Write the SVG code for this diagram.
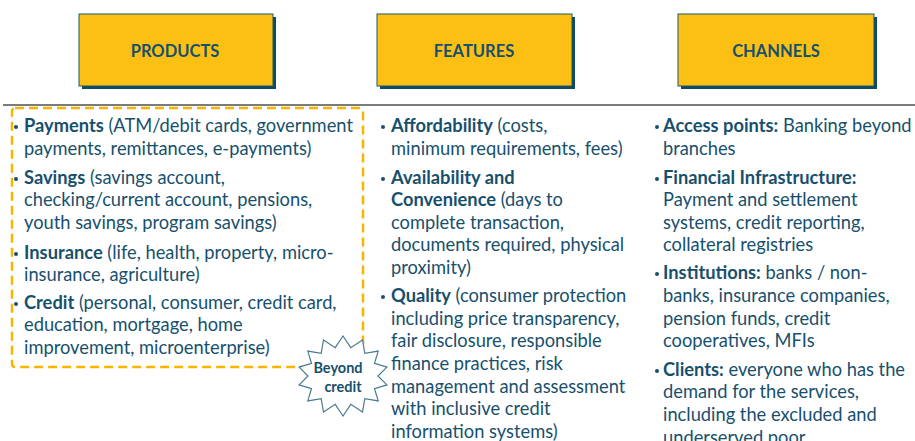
<svg xmlns="http://www.w3.org/2000/svg" width="915" height="441" viewBox="0 0 915 441">
<style>
.box{fill:#fcc015;stroke:#1a5870;stroke-width:1}
.shadow{fill:#0f4a60}
.hdr{font-family:Lato,"DejaVu Sans",sans-serif;font-size:16.5px;font-weight:bold;fill:#17506d;text-anchor:middle}
.t{font-family:Lato,"DejaVu Sans",sans-serif;font-size:18.3px;fill:#17506d}
.b{font-weight:bold}
.bul{fill:#17506d}
.star{fill:#fff;stroke:#4a7a8f;stroke-width:1.2}
.st{font-family:Lato,"DejaVu Sans",sans-serif;font-size:14.5px;font-weight:bold;fill:#17506d;text-anchor:middle}
</style>
<rect width="915" height="441" fill="#fff"/>
<g id="products-header">
<rect class="shadow" x="82" y="17" width="194" height="72"/>
<rect class="box" x="79" y="14" width="194" height="72"/>
<text class="hdr" x="175" y="57">PRODUCTS</text>
</g>
<g id="features-header">
<rect class="shadow" x="380" y="17" width="195" height="72"/>
<rect class="box" x="377" y="14" width="195" height="72"/>
<text class="hdr" x="474" y="57">FEATURES</text>
</g>
<g id="channels-header">
<rect class="shadow" x="681" y="17" width="196" height="72"/>
<rect class="box" x="678" y="14" width="196" height="72"/>
<text class="hdr" x="776" y="57">CHANNELS</text>
</g>
<line x1="3" y1="105" x2="915" y2="105" stroke="#505050" stroke-width="1.5"/>
<g id="products-list">
<rect x="12" y="108" width="351" height="259" rx="3" fill="none" stroke="#f7b500" stroke-width="2.5" stroke-dasharray="9 5"/>
<circle class="bul" cx="16" cy="127" r="2"/>
<circle class="bul" cx="16" cy="179" r="2"/>
<circle class="bul" cx="16" cy="254" r="2"/>
<circle class="bul" cx="16" cy="304" r="2"/>
<text class="t" x="24" y="132"><tspan class="b">Payments</tspan> (ATM/debit cards, government</text>
<text class="t" x="24" y="155">payments, remittances, e-payments)</text>
<text class="t" x="24" y="184"><tspan class="b">Savings</tspan> (savings account,</text>
<text class="t" x="24" y="206">checking/current account, pensions,</text>
<text class="t" x="24" y="229">youth savings, program savings)</text>
<text class="t" x="24" y="259"><tspan class="b">Insurance</tspan> (life, health, property, micro-</text>
<text class="t" x="24" y="281">insurance, agriculture)</text>
<text class="t" x="24" y="309"><tspan class="b">Credit</tspan> (personal, consumer, credit card,</text>
<text class="t" x="24" y="331">education, mortgage, home</text>
<text class="t" x="24" y="354">improvement, microenterprise)</text>
</g>
<g id="beyond-credit">
<polygon class="star" points="343,336 350.8,347.7 362.5,340 364.8,353.3 378.2,351.1 374.5,363.4 386.9,367.1 378,376 386.9,384.9 374.5,388.6 378.2,400.9 364.8,398.7 362.5,412 350.8,404.3 343,416 335.2,404.3 323.5,412 321.2,398.7 307.8,400.9 311.5,388.6 299.1,384.9 308,376 299.1,367.1 311.5,363.4 307.8,351.1 321.2,353.3 323.5,340 335.2,347.7"/>
<text class="st" x="338" y="373">Beyond</text>
<text class="st" x="343" y="392">credit</text>
</g>
<g id="features-list">
<circle class="bul" cx="383" cy="127" r="2"/>
<circle class="bul" cx="383" cy="179" r="2"/>
<circle class="bul" cx="383" cy="297" r="2"/>
<text class="t" x="391" y="132"><tspan class="b">Affordability</tspan> (costs,</text>
<text class="t" x="391" y="155">minimum requirements, fees)</text>
<text class="t" x="391" y="184"><tspan class="b">Availability and</tspan></text>
<text class="t" x="391" y="206"><tspan class="b">Convenience</tspan> (days to</text>
<text class="t" x="391" y="229">complete transaction,</text>
<text class="t" x="391" y="251">documents required, physical</text>
<text class="t" x="391" y="274">proximity)</text>
<text class="t" x="391" y="302"><tspan class="b">Quality</tspan> (consumer protection</text>
<text class="t" x="391" y="325">including price transparency,</text>
<text class="t" x="391" y="347">fair disclosure, responsible</text>
<text class="t" x="391" y="370">finance practices, risk</text>
<text class="t" x="391" y="393">management and assessment</text>
<text class="t" x="391" y="415">with inclusive credit</text>
<text class="t" x="391" y="438">information systems)</text>
</g>
<g id="channels-list">
<circle class="bul" cx="657" cy="127" r="2"/>
<circle class="bul" cx="657" cy="179" r="2"/>
<circle class="bul" cx="657" cy="274" r="2"/>
<circle class="bul" cx="657" cy="371" r="2"/>
<text class="t" x="663" y="132"><tspan class="b">Access points:</tspan> Banking beyond</text>
<text class="t" x="663" y="155">branches</text>
<text class="t" x="663" y="184"><tspan class="b">Financial Infrastructure:</tspan></text>
<text class="t" x="663" y="206">Payment and settlement</text>
<text class="t" x="663" y="229">systems, credit reporting,</text>
<text class="t" x="663" y="251">collateral registries</text>
<text class="t" x="663" y="279"><tspan class="b">Institutions:</tspan> banks / non-</text>
<text class="t" x="663" y="302">banks, insurance companies,</text>
<text class="t" x="663" y="325">pension funds, credit</text>
<text class="t" x="663" y="347">cooperatives, MFIs</text>
<text class="t" x="663" y="376"><tspan class="b">Clients:</tspan> everyone who has the</text>
<text class="t" x="663" y="398">demand for the services,</text>
<text class="t" x="663" y="421">including the excluded and</text>
<text class="t" x="663" y="444">underserved poor</text>
</g>
</svg>
